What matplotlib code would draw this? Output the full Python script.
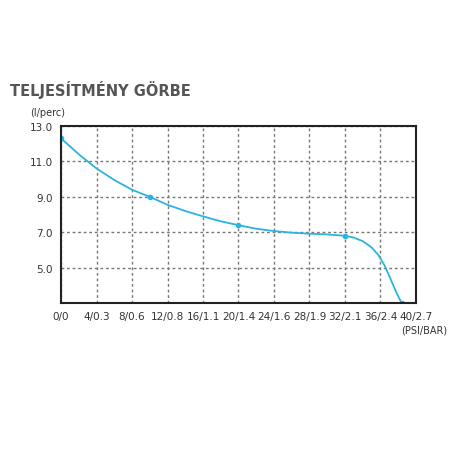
import matplotlib
matplotlib.use("Agg")
import matplotlib.pyplot as plt
import numpy as np

pressure = [0, 2, 4, 6, 8, 10, 12, 14, 16, 18, 20, 22, 24, 26, 28, 30, 32, 33, 34, 35, 35.8, 36.5, 37.2, 37.8, 38.4]
flow = [12.3, 11.4, 10.6, 9.95, 9.4, 9.0, 8.55, 8.2, 7.9, 7.62, 7.4, 7.2, 7.07, 6.98, 6.92, 6.88, 6.8, 6.7, 6.5, 6.15, 5.7, 5.1, 4.3, 3.6, 3.0]
marker_p = [0, 10, 20, 32, 38.4]
marker_f = [12.3, 9.0, 7.4, 6.8, 3.0]
xticks = [0, 4, 8, 12, 16, 20, 24, 28, 32, 36, 40]
xlabels = ["0/0", "4/0.3", "8/0.6", "12/0.8", "16/1.1", "20/1.4", "24/1.6", "28/1.9", "32/2.1", "36/2.4", "40/2.7"]
yticks = [5.0, 7.0, 9.0, 11.0, 13.0]

fig = plt.figure(figsize=(4.56, 4.56), dpi=100)
ax = fig.add_axes([0.134, 0.333, 0.778, 0.3885])
c = "#2ab4de"
ax.plot(pressure, flow, color=c, lw=1.3)
ax.plot(marker_p, marker_f, "o", color=c, ms=3)
ax.set_xlim(0, 40)
ax.set_ylim(3, 13)
ax.set_xticks(xticks)
ax.set_xticklabels(xlabels, fontsize=7.5, color="#333333")
ax.set_yticks(yticks)
ax.set_yticklabels([f"{v:.1f}" for v in yticks], fontsize=7.5, color="#333333")
ax.tick_params(length=0, pad=6)
ax.grid(True, color="#777777", ls=(0, (2, 2)), lw=1)
for s in ax.spines.values():
    s.set_linewidth(1.5)
    s.set_color("#222222")
fig.text(0.022, 0.79, "TELJESÍTMÉNY GÖRBE", fontsize=10.5, fontweight="bold", color="#555555")
fig.text(0.066, 0.745, "(l/perc)", fontsize=7, color="#333333")
fig.text(0.98, 0.268, "(PSI/BAR)", fontsize=7, color="#333333", ha="right")
fig.savefig("out.png", dpi=100)
